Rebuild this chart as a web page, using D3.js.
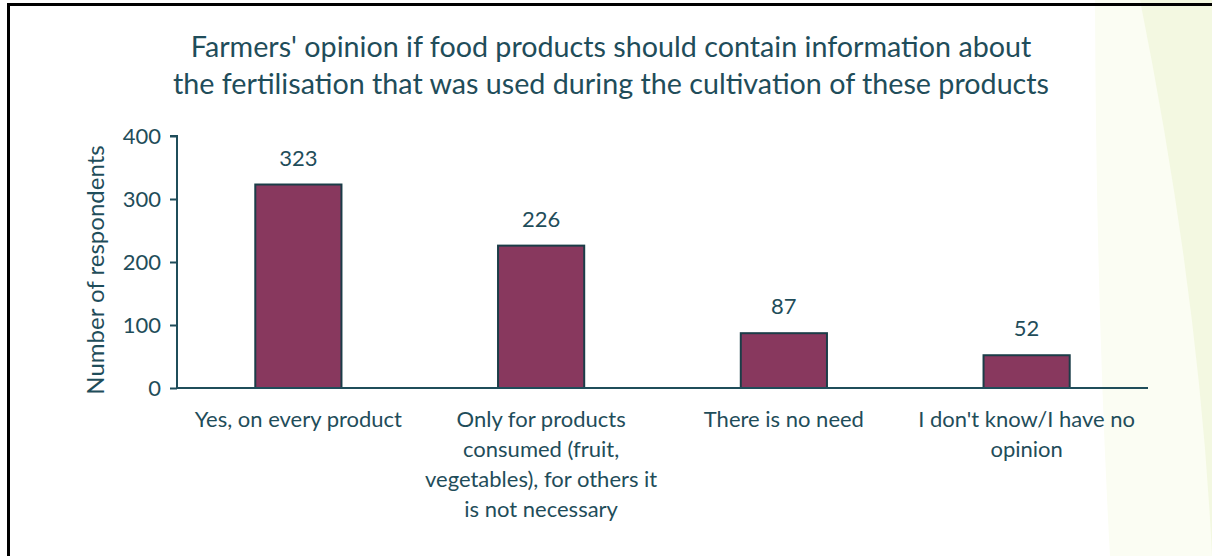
<!DOCTYPE html>
<html>
<head>
<meta charset="utf-8">
<script src="https://cdn.jsdelivr.net/npm/d3@7"></script>
<style>
  html, body { margin: 0; padding: 0; background: #fff; }
  svg { display: block; }
</style>
</head>
<body>
<svg id="chart" width="1212" height="556"></svg>
<script>
// Survey answers and respondent counts
const categories = [
  "Yes, on every product",
  "Only for products consumed (fruit, vegetables), for others it is not necessary",
  "There is no need",
  "I don't know/I have no opinion"
];
const categoryLines = [
  ["Yes, on every product"],
  ["Only for products", "consumed (fruit,", "vegetables), for others it", "is not necessary"],
  ["There is no need"],
  ["I don't know/I have no", "opinion"]
];
const respondents = [323, 226, 87, 52];
const yTicks = [0, 100, 200, 300, 400];
const titleLines = [
  "Farmers' opinion if food products should contain information about",
  "the fertilisation that was used during the cultivation of these products"
];
const yAxisTitle = "Number of respondents";

const W = 1212, H = 556;
const ink = "#1f4d5a";
const font = "Lato, 'Open Sans', sans-serif";
const svg = d3.select("#chart");

// decorative pale green backdrop on the right edge
const deco = svg.append("g");
deco.append("path")
  .attr("d", "M1095,0 L1212,0 L1212,556 L1110,556 Q1096,300 1095,0 Z")
  .attr("fill", "#fbfdf3");
deco.append("path")
  .attr("d", "M1140,0 L1212,0 L1212,556 Q1200,300 1140,0 Z")
  .attr("fill", "#f3f8e1");

// frame
svg.append("path")
  .attr("d", `M8.5,${H} L8.5,4.5 L${W},4.5`)
  .attr("fill", "none").attr("stroke", "#000").attr("stroke-width", 3);

const margin = { left: 177, right: 64, top: 136, bottom: 168 };
const x = d3.scaleBand().domain(categories).range([margin.left, W - margin.right]).padding(0);
const y = d3.scaleLinear().domain([0, 400]).range([H - margin.bottom, margin.top]);

const barW = x.bandwidth() * 0.355;

// title
svg.append("g").selectAll("text").data(titleLines).join("text")
  .attr("x", 611).attr("y", (d, i) => 57 + i * 37)
  .attr("text-anchor", "middle")
  .attr("font-family", font).attr("font-size", 28.7)
  .attr("fill", ink).text(d => d);

// y axis
const yAxis = svg.append("g").attr("transform", `translate(${margin.left},0)`)
  .call(d3.axisLeft(y).tickValues(yTicks).tickSize(7).tickPadding(9));
yAxis.select(".domain").attr("stroke", ink).attr("stroke-width", 2)
  .attr("d", `M-7,${y(400)}H0V${y(0)}`);
yAxis.selectAll(".tick line").attr("stroke", ink).attr("stroke-width", 2);
yAxis.selectAll(".tick text").attr("fill", ink)
  .attr("font-family", font).attr("font-size", 22);

svg.append("text")
  .attr("transform", `translate(104,${(y(0) + y(400)) / 2 + 8}) rotate(-90)`)
  .attr("text-anchor", "middle")
  .attr("font-family", font).attr("font-size", 24)
  .attr("fill", ink).text(yAxisTitle);

// bars
svg.append("g").selectAll("rect").data(categories).join("rect")
  .attr("x", d => x(d) + x.bandwidth() / 2 - barW / 2)
  .attr("y", (d, i) => y(respondents[i]))
  .attr("width", barW)
  .attr("height", (d, i) => y(0) - y(respondents[i]))
  .attr("fill", "#88385e")
  .attr("stroke", "#1b3d48").attr("stroke-width", 2);

// x axis baseline
svg.append("line")
  .attr("x1", margin.left).attr("x2", W - margin.right)
  .attr("y1", y(0)).attr("y2", y(0))
  .attr("stroke", ink).attr("stroke-width", 2);

// value labels
svg.append("g").selectAll("text").data(categories).join("text")
  .attr("x", d => x(d) + x.bandwidth() / 2)
  .attr("y", (d, i) => y(respondents[i]) - 19)
  .attr("text-anchor", "middle")
  .attr("font-family", font).attr("font-size", 22)
  .attr("fill", ink).text((d, i) => respondents[i]);

// category labels
const cat = svg.append("g").selectAll("text").data(categories).join("text")
  .attr("text-anchor", "middle")
  .attr("font-family", font).attr("font-size", 22)
  .attr("fill", ink);
cat.each(function (d, i) {
  d3.select(this).selectAll("tspan").data(categoryLines[i]).join("tspan")
    .attr("x", x(d) + x.bandwidth() / 2)
    .attr("y", (t, j) => 427 + j * 30)
    .text(t => t);
});
</script>
</body>
</html>
